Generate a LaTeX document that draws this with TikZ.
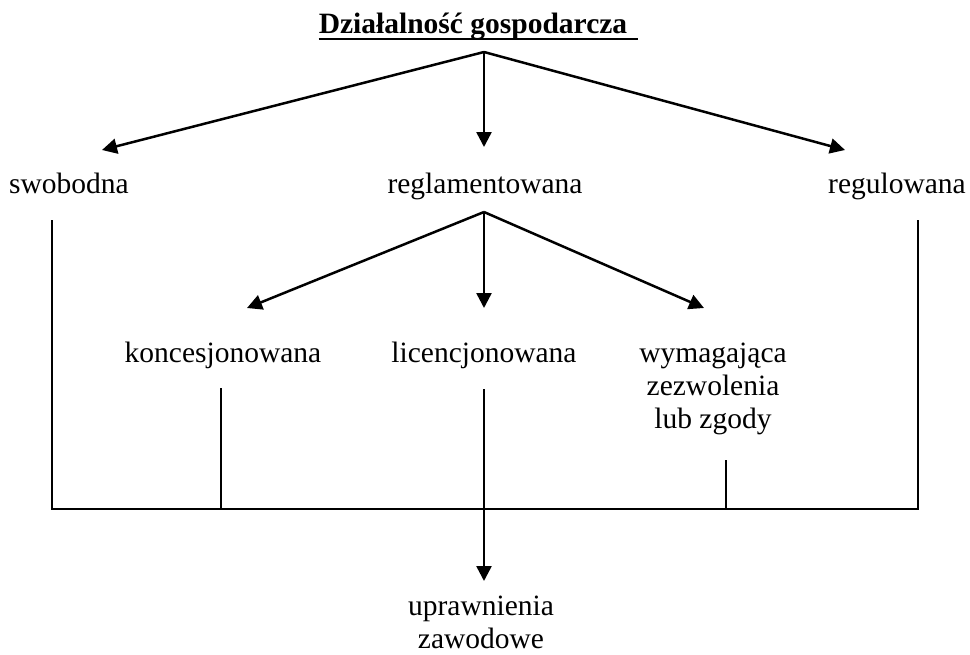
\documentclass[tikz,border=0pt]{standalone}
\usepackage{fontspec}
\setmainfont{Liberation Serif}
\usetikzlibrary{arrows.meta}
\begin{document}
\begin{tikzpicture}[x=1pt,y=-1pt,
  lbl/.style={anchor=base, inner sep=0pt, font=\fontsize{29.5}{33}\selectfont},
  multi/.style={lbl, align=center},
  conn/.style={line width=2.5pt, line cap=rect},
  arr/.style={line width=2.5pt, -{Triangle[length=15pt,width=15pt]}},
]
\useasboundingbox (0,0) rectangle (970,654);

% heading
\node[lbl, font=\fontsize{29.5}{33}\selectfont\bfseries] (title) at (473,33) {Działalność gospodarcza};
\draw[line width=2pt] ([yshift=-6pt]title.base west) -- ([yshift=-6pt,xshift=11pt]title.base east);

% first level
\coordinate (top) at (484,52);
\node[lbl] (swob) at (69,193) {swobodna};
\node[lbl] (regl) at (485,193) {reglamentowana};
\node[lbl] (regu) at (897,193) {regulowana};
\coordinate (tswob) at (102,150);
\coordinate (tregl) at (484,147);
\coordinate (tregu) at (845,150);
\draw[arr] (top) -- (tswob);
\draw[arr] (top) -- (tregl);
\draw[arr] (top) -- (tregu);

% second level
\coordinate (mid) at (484,212);
\node[lbl] (konc) at (223,362) {koncesjonowana};
\node[lbl] (lic) at (484,362) {licencjonowana};
% base anchor of a multi-line node sits on its last line
\node[multi] (wym) at (713,428) {wymagająca\\zezwolenia\\lub zgody};
\coordinate (tkonc) at (247,308);
\coordinate (tlic) at (484,308);
\coordinate (twym) at (704,308);
\draw[arr] (mid) -- (tkonc);
\draw[arr] (mid) -- (tlic);
\draw[arr] (mid) -- (twym);

% collecting bar
\coordinate (a1) at (52,221);   \coordinate (b1) at (52,509);
\coordinate (a2) at (221,389);  \coordinate (b2) at (221,509);
\coordinate (a3) at (484,389);  \coordinate (b3) at (484,509);
\coordinate (a4) at (726,461);  \coordinate (b4) at (726,509);
\coordinate (a5) at (918,221);  \coordinate (b5) at (918,509);
\draw[conn] (a1) -- (b1) -- (b5) -- (a5);
\draw[conn] (a2) -- (b2);
\draw[conn] (a4) -- (b4);

% result
\node[multi] (upr) at (481,648) {uprawnienia\\zawodowe};
\coordinate (tupr) at (484,581);
\draw[arr] (a3) -- (tupr);
\end{tikzpicture}
\end{document}
